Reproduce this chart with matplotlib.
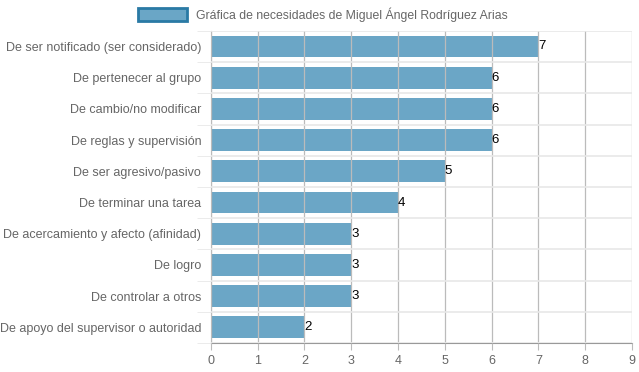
import matplotlib.pyplot as plt
import numpy as np

plt.rcParams['font.family'] = ['Liberation Sans', 'DejaVu Sans']

categorias = [
    "De ser notificado (ser considerado)",
    "De pertenecer al grupo",
    "De cambio/no modificar",
    "De reglas y supervisión",
    "De ser agresivo/pasivo",
    "De terminar una tarea",
    "De acercamiento y afecto (afinidad)",
    "De logro",
    "De controlar a otros",
    "De apoyo del supervisor o autoridad",
]
valores = [7, 6, 6, 6, 5, 4, 3, 3, 3, 2]
ticks_x = list(range(0, 10))
titulo = "Gráfica de necesidades de Miguel Ángel Rodríguez Arias"

fig = plt.figure(figsize=(6.39, 3.72), dpi=100)
ax = fig.add_axes([0.330, 0.078, 0.659, 0.839])

y = np.arange(len(categorias))
ax.barh(y, valores, height=0.7, color="#5b9dc0", alpha=0.9, zorder=1,
        label=titulo)
for yi, v in zip(y, valores):
    ax.text(v, yi, str(v), va="center", ha="left", fontsize=9.5, color="black")

ax.set_xlim(0, 9)
ax.set_ylim(len(categorias) - 0.5, -0.5)
ax.set_xticks(ticks_x)
ax.set_yticks(y)
ax.set_yticklabels(categorias)
ax.set_yticks(np.arange(-0.5, len(categorias), 1), minor=True)

ax.grid(axis="x", color="#bbbbbb", linewidth=0.9, zorder=2)
ax.grid(axis="y", which="minor", color="#e8e8e8", linewidth=1.2, zorder=0)
ax.set_axisbelow(False)
for s in ["top", "right"]:
    ax.spines[s].set_visible(False)
ax.spines["left"].set_color("#999999")
ax.spines["bottom"].set_color("#999999")
ax.tick_params(axis="both", which="major", labelsize=9, colors="#666666",
               length=0, pad=7)
ax.tick_params(axis="y", which="minor", length=10, color="#e8e8e8")
ax.tick_params(axis="x", which="major", length=5, color="#bbbbbb", pad=4)

leg = fig.legend(loc="upper center", bbox_to_anchor=(0.505, 1.01), frameon=False,
                 fontsize=8.8, handlelength=4.0, handleheight=1.2,
                 handletextpad=0.7)
for t in leg.get_texts():
    t.set_color("#666666")
h = leg.legend_handles[0]
h.set_edgecolor("#2a7aa5")
h.set_linewidth(2)
h.set_alpha(1)
h.set_facecolor("#6aa6c6")

fig.savefig("out.png", dpi=100)
